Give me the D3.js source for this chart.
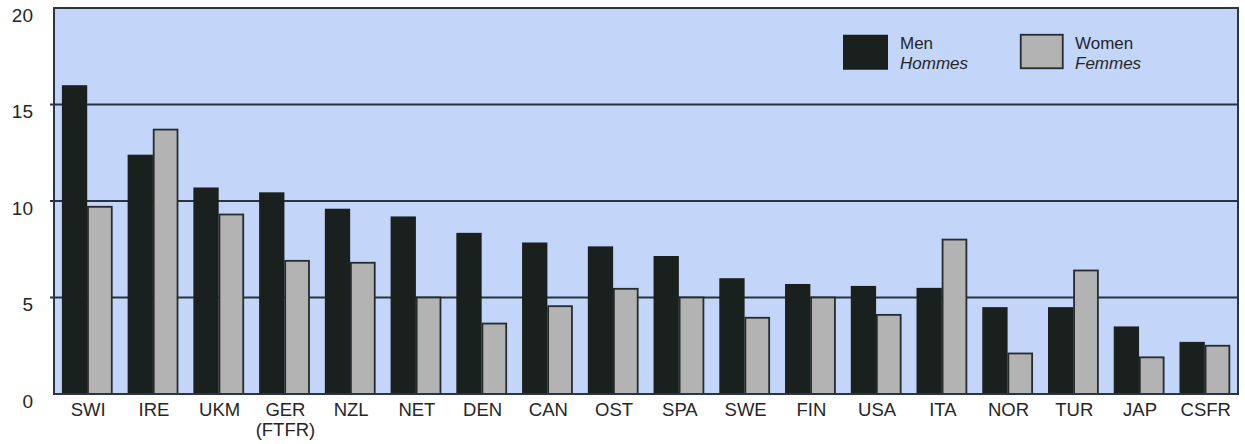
<!DOCTYPE html>
<html><head><meta charset="utf-8">
<script src="https://cdn.jsdelivr.net/npm/d3@7"></script>
<style>
html,body{margin:0;padding:0;background:#ffffff;}
svg{display:block;}
text{font-family:"Liberation Sans",Arial,sans-serif;fill:#262626;}
</style></head>
<body>
<svg id="chart" width="1245" height="444"></svg>
<script>
const categories = ["SWI","IRE","UKM","GER\n(FTFR)","NZL","NET","DEN","CAN","OST","SPA","SWE","FIN","USA","ITA","NOR","TUR","JAP","CSFR"];
const men   = [16.0,12.4,10.7,10.45,9.6,9.2,8.35,7.85,7.65,7.15,6.0,5.7,5.6,5.5,4.5,4.5,3.5,2.7];
const women = [9.7,13.7,9.3,6.9,6.8,5.0,3.65,4.55,5.45,5.0,3.95,5.0,4.1,8.0,2.1,6.4,1.9,2.5];
const yTicks = [0,5,10,15,20];
const seriesNames = [["Men","Hommes"],["Women","Femmes"]];

const svg = d3.select("#chart");
const L = 54, R = 1238, T = 8, B = 394;

const x = d3.scaleBand().domain(categories).range([L, R]).paddingInner(0.23).paddingOuter(0.12);
const xs = d3.scaleBand().domain([0,1]).range([0, x.bandwidth()]).paddingInner(0);
const y = d3.scaleLinear().domain([0,20]).range([B, T]);

// background
svg.append("rect").attr("x",L).attr("y",T).attr("width",R-L).attr("height",B-T)
  .attr("fill","#c3d5f8");

// gridlines
svg.append("g").selectAll("line").data(yTicks.filter(d=>d>0 && d<20)).join("line")
  .attr("x1",L-4).attr("x2",R).attr("y1",d=>y(d)).attr("y2",d=>y(d))
  .attr("stroke","#27343f").attr("stroke-width",2);

// bars
const rows = categories.map((c,i)=>({c, m:men[i], w:women[i]}));
const g = svg.append("g");
g.selectAll("rect.men").data(rows).join("rect").attr("class","men")
  .attr("x",d=>x(d.c)+xs(0)).attr("width",xs.bandwidth())
  .attr("y",d=>y(d.m)).attr("height",d=>B-y(d.m))
  .attr("fill","#1a201d");
g.selectAll("rect.women").data(rows).join("rect").attr("class","women")
  .attr("x",d=>x(d.c)+xs(1)+0.75).attr("width",xs.bandwidth()-1.5)
  .attr("y",d=>y(d.w)).attr("height",d=>B-y(d.w))
  .attr("fill","#b3b3b3").attr("stroke","#262b2e").attr("stroke-width",1.8);

// border
svg.append("rect").attr("x",L).attr("y",T).attr("width",R-L).attr("height",B-T)
  .attr("fill","none").attr("stroke","#2a3540").attr("stroke-width",2);

// y axis labels
const yAxis = d3.axisLeft(y).tickValues(yTicks).tickSize(0).tickPadding(21);
const ya = svg.append("g").attr("transform",`translate(${L},0)`).call(yAxis);
ya.select(".domain").remove();
ya.selectAll("text").attr("font-size",19).attr("dy","0.7em")
  .style("font-family",'"Liberation Sans",Arial,sans-serif').attr("fill","#262626");

// x axis labels
const xAxis = d3.axisBottom(x).tickSize(0).tickPadding(0);
const xa = svg.append("g").attr("transform",`translate(0,${B})`).call(xAxis);
xa.select(".domain").remove();
xa.selectAll(".tick text").each(function(d){
  const t = d3.select(this);
  t.text(null).attr("font-size",18.5).attr("y",22).attr("dy",0)
   .style("font-family",'"Liberation Sans",Arial,sans-serif').attr("fill","#262626");
  d.split("\n").forEach((s,i)=>{
    t.append("tspan").attr("x",1).attr("dy", i===0 ? "0" : "1.1em").text(s);
  });
});

// legend
const lg = svg.append("g");
const legX = [843, 1020];
seriesNames.forEach((nm,i)=>{
  lg.append("rect").attr("x",legX[i]+(i?0.75:0)).attr("y",34.75).attr("width",i?42:45).attr("height",i?33.5:35)
    .attr("fill", i ? "#b3b3b3" : "#1a201d")
    .attr("stroke", i ? "#262b2e" : "none").attr("stroke-width",1.8);
  lg.append("text").attr("x",legX[i]+(i?55:57)).attr("y",49).attr("font-size",17).text(nm[0]);
  lg.append("text").attr("x",legX[i]+(i?55:57)).attr("y",69).attr("font-size",17)
    .attr("font-style","italic").text(nm[1]);
});
</script>
</body></html>
